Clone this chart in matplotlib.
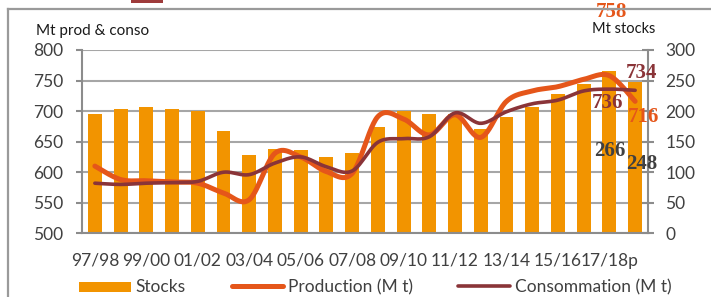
import numpy as np
import matplotlib
matplotlib.use("Agg")
import matplotlib.pyplot as plt
from matplotlib.lines import Line2D
from matplotlib.patches import Rectangle

categories = ['97/98', '98/99', '99/00', '00/01', '01/02', '02/03', '03/04', '04/05',
              '05/06', '06/07', '07/08', '08/09', '09/10', '10/11', '11/12', '12/13',
              '13/14', '14/15', '15/16', '16/17', '17/18p', '18/19p']
stocks = [195, 203, 206, 204, 200, 167, 128, 138, 136, 125, 132, 174, 200, 195,
          195, 170, 190, 207, 228, 244, 266, 248]
production = [610, 588, 586, 584, 582, 566, 555, 631, 625, 601, 598, 691, 687, 661,
              694, 657, 716, 733, 740, 752, 758, 716]
consommation = [582, 580, 582, 583, 585, 600, 596, 615, 625, 609, 602, 649, 655, 658,
                697, 680, 699, 712, 718, 733, 736, 734]
left_ticks = [500, 550, 600, 650, 700, 750, 800]
right_ticks = [0, 50, 100, 150, 200, 250, 300]

C_BAR = '#F29400'
C_PROD = '#E5561A'
C_CONS = '#8A3438'
C_GRID = '#A6A6A6'
C_TXT = '#404040'
FONT = 'Lato'


def smooth(x, y, n=24):
    x = np.asarray(x, float)
    y = np.asarray(y, float)
    P = np.column_stack([x, y])
    P = np.vstack([P[0], P, P[-1]])
    out = []
    t = np.linspace(0, 1, n, endpoint=False)
    for i in range(1, len(P) - 2):
        p0, p1, p2, p3 = P[i - 1], P[i], P[i + 1], P[i + 2]
        c1 = p1 + (p2 - p0) / 6.0
        c2 = p2 - (p3 - p1) / 6.0
        tt = t[:, None]
        seg = ((1 - tt) ** 3) * p1 + 3 * ((1 - tt) ** 2) * tt * c1 + 3 * (1 - tt) * tt ** 2 * c2 + tt ** 3 * p2
        out.append(seg)
    out.append(P[-2][None, :])
    out = np.vstack(out)
    return out[:, 0], out[:, 1]


fig = plt.figure(figsize=(7.11, 2.97), dpi=100)
W, H = 711, 297

fig.add_artist(Line2D([8 / W, 8 / W], [0, 1 - 9 / H], color='#9A9A9A', lw=1.6, transform=fig.transFigure))
fig.add_artist(Line2D([8 / W, 1], [1 - 9 / H, 1 - 9 / H], color='#9A9A9A', lw=1.6, transform=fig.transFigure))
fig.add_artist(Rectangle((131 / W, 1 - 3 / H), 32 / W, 3 / H, color='#9E3B3B', transform=fig.transFigure, lw=0))
fig.text(220 / W, 1 - 4 / H, 'Bilan mondial', color='#9E3B3B', fontsize=22, fontweight='bold',
         family='Liberation Serif', va='bottom', ha='left')

ax_l = 82 / W
ax_r = 648 / W
ax_b = 1 - 233.3 / H
ax_t = 1 - 50 / H
ax2 = fig.add_axes([ax_l, ax_b, ax_r - ax_l, ax_t - ax_b])
ax1 = ax2.twinx()
ax1.yaxis.set_ticks_position('left')
ax1.yaxis.set_label_position('left')
ax2.yaxis.set_ticks_position('right')
ax2.yaxis.set_label_position('right')
ax1.set_zorder(ax2.get_zorder() + 1)
ax1.patch.set_visible(False)

x = np.arange(len(categories))
ax2.set_axisbelow(True)
ax2.grid(axis='y', color=C_GRID, lw=1.5)
ax2.bar(x, stocks, width=0.54, color=C_BAR, zorder=2)
ax2.set_ylim(0, 300)
ax2.set_yticks(right_ticks)
ax1.set_ylim(500, 800)
ax1.set_yticks(left_ticks)
for a in (ax1, ax2):
    a.set_xlim(-0.5, len(categories) - 0.5)
    for s in a.spines.values():
        s.set_visible(False)

ax1.spines['left'].set_visible(True)
ax1.spines['left'].set_color('#8C8C8C')
ax1.spines['left'].set_linewidth(1.5)
ax2.spines['right'].set_visible(True)
ax2.spines['right'].set_color('#8C8C8C')
ax2.spines['right'].set_linewidth(1.5)
ax2.spines['bottom'].set_visible(True)
ax2.spines['bottom'].set_color('#8C8C8C')
ax2.spines['bottom'].set_linewidth(1.5)

ax1.tick_params(axis='y', length=4.5, width=1.5, color='#8C8C8C', pad=9, labelsize=12.5, labelcolor=C_TXT)
ax2.tick_params(axis='y', direction='inout', length=9, width=1.5, color='#8C8C8C', pad=8, labelsize=12.5, labelcolor=C_TXT)
for lab in ax1.get_yticklabels() + ax2.get_yticklabels():
    lab.set_family(FONT)

ax2.set_xticks(np.arange(-0.5, len(categories) + 0.5, 1.0))
ax2.set_xticklabels([])
ax2.tick_params(axis='x', which='major', length=4.5, width=1.5, color='#8C8C8C')
ax2.set_xticks(x[::2], minor=True)
ax2.set_xticklabels([categories[i] for i in x[::2]], minor=True)
ax2.tick_params(axis='x', which='minor', length=0, pad=14, labelsize=12.5, labelcolor=C_TXT)
for lab in ax2.get_xticklabels(minor=True):
    lab.set_family(FONT)
ax1.set_xticks([])

sx, sy = smooth(x, production)
ax1.plot(sx, sy, color=C_PROD, lw=3.6, solid_capstyle='round', zorder=3)
cx, cy = smooth(x, consommation)
ax1.plot(cx, cy, color=C_CONS, lw=2.6, solid_capstyle='round', zorder=4)

lab_kw = dict(family='Liberation Serif', fontweight='bold', fontsize=15, ha='center', va='center', clip_on=False)
ax1.text(20.06, 862, '758', color=C_PROD, **lab_kw)
ax1.text(21.23, 762, '734', color=C_CONS, **lab_kw)
ax1.text(19.94, 713, '736', color=C_CONS, **lab_kw)
ax1.text(21.34, 690, '716', color=C_PROD, **lab_kw)
ax2.text(20.02, 135, '266', color=C_TXT, **lab_kw)
ax2.text(21.26, 113, '248', color=C_TXT, **lab_kw)

fig.text(36 / W, 1 - 31 / H, 'Mt prod & conso', family=FONT, fontsize=11, color='#1a1a1a', ha='left', va='center')
fig.text(655 / W, 1 - 29 / H, 'Mt stocks', family=FONT, fontsize=10.5, color='#1a1a1a', ha='right', va='center')

ly = 1 - 287 / H
fig.add_artist(Rectangle((79 / W, 1 - 292 / H), 52 / W, 10 / H, color=C_BAR, lw=0, transform=fig.transFigure))
fig.text(135 / W, ly, 'Stocks', family=FONT, fontsize=12.5, color=C_TXT, ha='left', va='center')
fig.add_artist(Line2D([232 / W, 283 / W], [1 - 285.7 / H] * 2, color=C_PROD, lw=3.6, solid_capstyle='round', transform=fig.transFigure))
fig.text(288 / W, ly, 'Production (M t)', family=FONT, fontsize=12.5, color=C_TXT, ha='left', va='center')
fig.add_artist(Line2D([458 / W, 510 / W], [1 - 285.7 / H] * 2, color=C_CONS, lw=2.6, solid_capstyle='round', transform=fig.transFigure))
fig.text(515 / W, ly, 'Consommation (M t)', family=FONT, fontsize=12.5, color=C_TXT, ha='left', va='center')

fig.savefig('out.png', dpi=100)
